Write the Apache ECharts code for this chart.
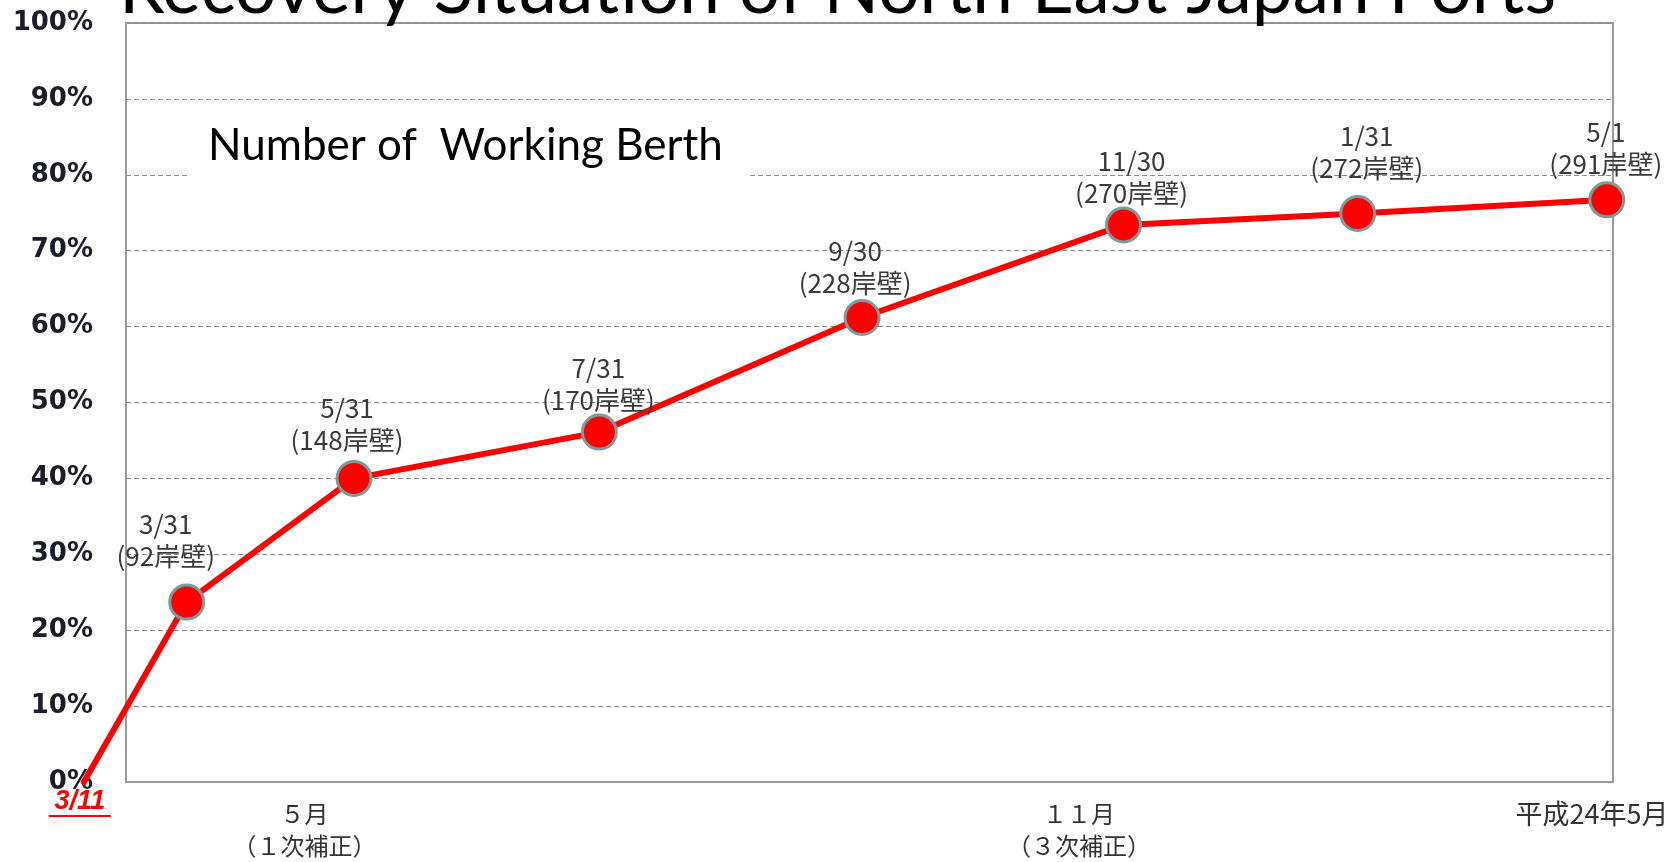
<!DOCTYPE html>
<html>
<head>
<meta charset="utf-8">
<script src="https://cdn.jsdelivr.net/npm/echarts@6/dist/echarts.min.js"></script>
<style>
html,body{margin:0;padding:0;background:#fff;}
#chart{width:1675px;height:862px;}
</style>
</head>
<body>
<div id="chart"></div>
<script>
// ---- data ----
const pointDates = ['3/11', '3/31', '5/31', '7/31', '9/30', '11/30', '1/31', '5/1'];
const berthCounts = [null, 92, 148, 170, 228, 270, 272, 291];
const timelinePos = [-0.34, 0.49, 1.84, 3.82, 5.94, 8.05, 9.94, 11.95];
const recoveryPct = [0, 23.7, 40.0, 46.1, 61.2, 73.4, 74.9, 76.7];
const xTickValues = [1.44, 7.69, 11.83];
const xTickLabels = ['５月\n（１次補正）', '１１月\n（３次補正）', '平成24年5月'];
const yTickStep = 10;

// label nudges (style only)
const labelNudge = [[0, 0], [-21, -11], [-7, -4], [-1, 3], [-7, 0], [8, 3], [9, -11], [-1, -1]];

const chart = echarts.init(document.getElementById('chart'), null, {renderer: 'canvas'});

const linePoints = timelinePos.map((x, i) => [x, recoveryPct[i]]);

const markerData = timelinePos.map((x, i) => {
  const item = {value: [x, recoveryPct[i]]};
  if (i === 0) {
    item.symbolSize = 0;
    item.label = {
      show: true,
      position: 'bottom',
      distance: 7,
      offset: [-4, 0],
      formatter: '{t|' + pointDates[i] + '}\n{u| }',
      rich: {
        t: {color: '#ff0000', fontSize: 27, fontWeight: 'bold', fontStyle: 'italic',
            fontFamily: 'Liberation Sans', lineHeight: 25, align: 'center'},
        u: {backgroundColor: '#ff0000', width: 62, height: 2, lineHeight: 4, fontSize: 1, align: 'center'}
      }
    };
  } else {
    item.label = {offset: labelNudge[i]};
  }
  return item;
});

chart.setOption({
  backgroundColor: '#ffffff',
  animation: false,
  title: [
    {
      text: 'Recovery Situation of North East Japan Ports',
      left: 'center',
      top: -47,
      padding: 0,
      textStyle: {fontFamily: 'Lato', fontSize: 73, fontWeight: 'normal', color: '#000'}
    },
    {
      text: 'Number of  Working Berth',
      left: 187,
      top: 114,
      padding: [10, 27, 30, 21],
      backgroundColor: '#ffffff',
      textStyle: {fontFamily: 'Lato', fontSize: 44, fontWeight: 'normal', color: '#000'}
    }
  ],
  grid: {
    left: 126, right: 62, top: 23, bottom: 79,
    show: true, borderColor: '#9a9a9a', borderWidth: 2
  },
  xAxis: {
    type: 'value',
    min: 0, max: 12,
    axisLine: {show: true, lineStyle: {color: '#9a9a9a', width: 2}},
    axisTick: {show: false},
    splitLine: {show: false},
    axisLabel: {
      customValues: xTickValues,
      margin: 16,
      color: '#333',
      fontSize: 24,
      lineHeight: 32,
      fontFamily: 'Noto Sans CJK JP',
      formatter: function (v) {
        let best = 0;
        for (let i = 1; i < xTickValues.length; i++) {
          if (Math.abs(xTickValues[i] - v) < Math.abs(xTickValues[best] - v)) best = i;
        }
        return best === xTickValues.length - 1 ? '{b|' + xTickLabels[best] + '}' : xTickLabels[best];
      },
      rich: {
        b: {fontSize: 27, fontFamily: 'Noto Sans CJK JP', color: '#333', lineHeight: 32}
      }
    }
  },
  yAxis: {
    type: 'value',
    min: 0, max: 100, interval: yTickStep,
    axisLine: {show: true, lineStyle: {color: '#9a9a9a', width: 2}},
    axisTick: {show: false},
    splitLine: {show: true, lineStyle: {color: '#8c8c8c', type: [5, 3], width: 1}},
    axisLabel: {
      margin: 33,
      formatter: '{value}%',
      color: '#1c1c2c',
      fontSize: 26,
      fontWeight: 'bold',
      fontFamily: 'DejaVu Sans'
    }
  },
  series: [
    {
      type: 'lines',
      coordinateSystem: 'cartesian2d',
      polyline: true,
      clip: false,
      silent: true,
      lineStyle: {color: '#ff0000', width: 6, opacity: 1, join: 'round', cap: 'round'},
      data: [{coords: linePoints}],
      z: 2
    },
    {
      type: 'scatter',
      data: markerData,
      clip: false,
      symbol: 'circle',
      symbolSize: 34,
      itemStyle: {color: '#ff0000', borderColor: '#7c9c9c', borderWidth: 3, opacity: 1},
      label: {
        show: true,
        position: 'top',
        distance: 0,
        color: '#3a3a3a',
        fontSize: 26,
        lineHeight: 32,
        fontFamily: 'Noto Sans CJK JP',
        align: 'center',
        formatter: function (p) {
          const i = p.dataIndex;
          return pointDates[i] + '\n(' + berthCounts[i] + '岸壁)';
        }
      },
      z: 3
    }
  ]
});
</script>
</body>
</html>
